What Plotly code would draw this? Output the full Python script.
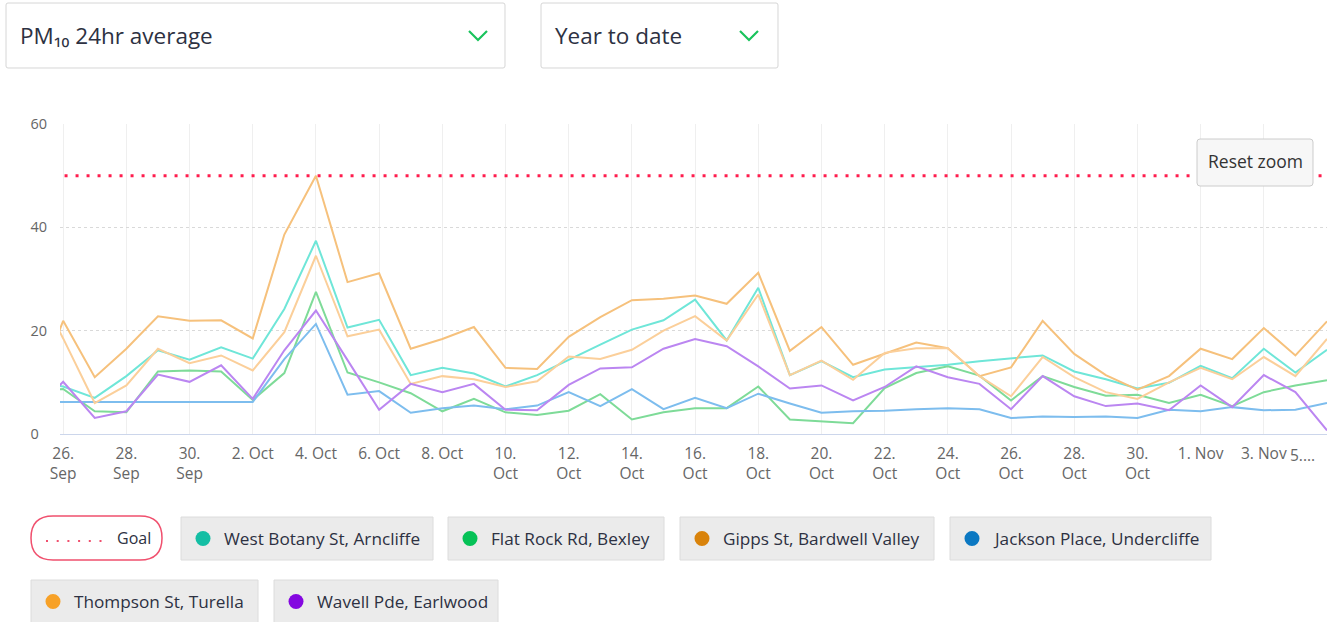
import plotly.graph_objects as go
import pandas as pd

# ---------------- data ----------------
dates = pd.date_range("2023-09-25", "2023-11-05", freq="D")

west_botany = [10.0, 9.2, 7.0, 11.2, 16.2, 14.4, 16.8, 14.6, 24.2, 37.4, 20.6, 22.1, 11.4, 12.8,
               11.7, 9.2, 11.4, 14.4, 17.3, 20.2, 22.0, 26.0, 18.1, 28.3, 11.4, 14.1, 11.0, 12.5,
               12.9, 13.4, 14.1, 14.6, 15.2, 12.1, 10.6, 8.8, 9.9, 13.2, 10.8, 16.5, 11.9, 16.3]
flat_rock = [8.5, 8.7, 4.4, 4.2, 12.1, 12.3, 12.1, 6.6, 11.8, 27.5, 11.9, 10.0, 7.9, 4.4,
             6.8, 4.2, 3.7, 4.5, 7.7, 2.8, 4.2, 5.0, 5.0, 9.2, 2.8, 2.5, 2.1, 8.9,
             11.8, 13.1, 11.3, 6.5, 11.2, 9.1, 7.4, 7.6, 6.0, 7.6, 5.4, 8.1, 9.4, 10.4]
gipps = [6.0, 21.9, 11.0, 16.5, 22.8, 21.9, 22.0, 18.5, 38.6, 50.0, 29.4, 31.1, 16.5, 18.4,
         20.7, 12.8, 12.6, 18.8, 22.6, 25.9, 26.2, 26.8, 25.2, 31.2, 16.1, 20.7, 13.4, 15.5,
         17.7, 16.6, 11.2, 12.9, 21.9, 15.5, 11.4, 8.6, 11.2, 16.5, 14.5, 20.5, 15.2, 21.8]
jackson = [6.2, 6.2, 6.2, 6.2, 6.2, 6.2, 6.2, 6.2, 14.5, 21.3, 7.6, 8.3, 4.1, 5.0,
           5.5, 4.8, 5.5, 8.1, 5.4, 8.7, 4.8, 7.0, 5.0, 7.8, 5.9, 4.1, 4.4, 4.5,
           4.8, 5.0, 4.8, 3.1, 3.4, 3.3, 3.4, 3.1, 4.7, 4.4, 5.2, 4.6, 4.7, 6.0]
thompson = [30.0, 18.5, 6.0, 9.4, 16.5, 13.7, 15.2, 12.3, 19.7, 34.5, 18.9, 20.2, 9.7, 11.2,
            10.6, 9.1, 10.2, 15.0, 14.5, 16.3, 20.0, 22.8, 18.1, 27.0, 11.4, 14.2, 10.5, 15.7,
            16.6, 16.6, 11.2, 7.3, 14.9, 11.0, 8.1, 6.8, 10.0, 12.8, 10.6, 14.9, 11.2, 18.4]
wavell = [4.0, 10.1, 3.1, 4.4, 11.5, 10.1, 13.3, 6.8, 16.2, 23.9, 14.3, 4.7, 9.7, 8.1,
          9.7, 4.7, 4.6, 9.5, 12.7, 12.9, 16.5, 18.4, 17.0, 13.1, 8.8, 9.4, 6.5, 9.1,
          13.1, 11.0, 9.7, 4.8, 11.2, 7.3, 5.4, 5.9, 4.6, 9.4, 5.2, 11.4, 8.1, 0.7]
goal_value = 50

series_names = ["West Botany St, Arncliffe", "Flat Rock Rd, Bexley", "Gipps St, Bardwell Valley",
                "Jackson Place, Undercliffe", "Thompson St, Turella", "Wavell Pde, Earlwood"]
series_values = [west_botany, flat_rock, gipps, jackson, thompson, wavell]
line_colors = ["#6fe6d8", "#7edb98", "#f6c17c", "#7dbdee", "#fbcf9a", "#bb86f1"]
legend_colors = ["#14bea4", "#06c257", "#d9830b", "#0b78c2", "#f7a127", "#8407e0"]

tick_vals = pd.date_range("2023-09-26", "2023-11-05", freq="2D")
tick_labels = ["26.<br>Sep", "28.<br>Sep", "30.<br>Sep", "2. Oct", "4. Oct", "6. Oct", "8. Oct",
               "10.<br>Oct", "12.<br>Oct", "14.<br>Oct", "16.<br>Oct", "18.<br>Oct", "20.<br>Oct",
               "22.<br>Oct", "24.<br>Oct", "26.<br>Oct", "28.<br>Oct", "30.<br>Oct", "1. Nov",
               "3. Nov", "5...."]
y_ticks = [0, 20, 40, 60]
y_labels = ["0\u2007", "20", "40", "60"]

# ---------------- geometry helpers ----------------
W, H = 1336, 622
L, R, T, B = 60, 1327, 124, 434


def px(x):
    return (x - L) / (R - L)


def py(y):
    return (B - y) / (B - T)


def rrect(x0, y0, x1, y1, r):
    pts = [("M", x0 + r, y0), ("L", x1 - r, y0), ("Q", x1, y0, x1, y0 + r), ("L", x1, y1 - r),
           ("Q", x1, y1, x1 - r, y1), ("L", x0 + r, y1), ("Q", x0, y1, x0, y1 - r),
           ("L", x0, y0 + r), ("Q", x0, y0, x0 + r, y0)]
    s = ""
    for p in pts:
        coords = p[1:]
        parts = [f"{px(coords[i]):.5f},{py(coords[i + 1]):.5f}" for i in range(0, len(coords), 2)]
        s += p[0] + " " + " ".join(parts) + " "
    return s + "Z"


FONT = "Open Sans"
TXT = "#2d3142"


def label(x, y, text, size, xanchor="left", color=TXT, family=FONT):
    return dict(xref="paper", yref="paper", x=px(x), y=py(y), xanchor=xanchor, yanchor="middle",
                text=text, showarrow=False, font=dict(family=family, size=size, color=color))


fig = go.Figure()

# goal line
fig.add_trace(go.Scatter(
    x=[pd.Timestamp("2023-09-25"), dates[-1]], y=[goal_value, goal_value], mode="lines",
    line=dict(color="#ff1d4e", width=3, dash="3px,8px"), hoverinfo="skip", showlegend=False))

for name, vals, col in zip(series_names, series_values, line_colors):
    fig.add_trace(go.Scatter(x=dates, y=vals, mode="lines", name=name,
                             line=dict(color=col, width=2), showlegend=False))

shapes = []
annotations = []

# dropdowns
for (x0, x1, txt, cx) in [(6, 505, "PM\u2081\u2080 24hr average", 478), (541, 778, "Year to date", 749)]:
    shapes.append(dict(type="path", xref="paper", yref="paper", path=rrect(x0, 3, x1, 68, 2),
                       line=dict(color="#d6d6d6", width=1), fillcolor="white"))
    annotations.append(label(x0 + 12, 36, txt, 22.5))
    shapes.append(dict(type="path", xref="paper", yref="paper",
                       path=f"M {px(cx - 9):.5f},{py(31):.5f} L {px(cx):.5f},{py(40):.5f} L {px(cx + 9):.5f},{py(31):.5f}",
                       line=dict(color="#19c35c", width=2.2)))

# reset zoom button
shapes.append(dict(type="path", xref="paper", yref="paper", path=rrect(1197, 139, 1313, 186, 3),
                   line=dict(color="#cccccc", width=1), fillcolor="#f7f7f7", layer="above"))
annotations.append(label(1255, 161, "Reset zoom", 17.5, xanchor="center", color="#333333"))

# last x tick label (truncated)
annotations.append(label(1317, 455, tick_labels[-1], 15.5, xanchor="right", color="#666666"))

# custom legend
shapes.append(dict(type="path", xref="paper", yref="paper", path=rrect(31, 516, 162, 560, 22),
                   line=dict(color="#f0506e", width=1.5), fillcolor="white"))
shapes.append(dict(type="line", xref="paper", yref="paper", x0=px(46), x1=px(102), y0=py(541), y1=py(541),
                   line=dict(color="#f0506e", width=2, dash="2px,8.7px")))
annotations.append(label(153, 538, "Goal", 16, xanchor="right"))

legend_boxes = [(181, 433, 517), (448, 664, 517), (680, 934, 517), (950, 1211, 517),
                (31, 258, 580), (274, 498, 580)]
for name, col, (x0, x1, y0) in zip(series_names, legend_colors, legend_boxes):
    shapes.append(dict(type="rect", xref="paper", yref="paper", x0=px(x0), x1=px(x1),
                       y0=py(y0), y1=py(y0 + 43), line=dict(color="#dcdcdc", width=1),
                       fillcolor="#ebebeb"))
    cy = y0 + 21.5
    shapes.append(dict(type="circle", xref="paper", yref="paper", x0=px(x0 + 14.5), x1=px(x0 + 29.5),
                       y0=py(cy - 7.5), y1=py(cy + 7.5), line=dict(width=0), fillcolor=col))
    annotations.append(label(x0 + 41, cy, name, 17.2))

fig.update_layout(
    width=W, height=H, margin=dict(l=L, r=W - R, t=T, b=H - B),
    paper_bgcolor="white", plot_bgcolor="white",
    shapes=shapes, annotations=annotations, showlegend=False,
    xaxis=dict(type="date", range=[pd.Timestamp("2023-09-25 21:36"), pd.Timestamp("2023-11-05")],
               tickvals=tick_vals, ticktext=tick_labels[:-1] + [""], showgrid=True,
               gridcolor="#efefef", gridwidth=1, showline=True, linecolor="#ccd6eb", linewidth=1,
               zeroline=False, ticks="", tickfont=dict(family=FONT, size=15.5, color="#666666"),
               ticklabelstandoff=5, fixedrange=True),
    yaxis=dict(range=[0, 60], tickvals=y_ticks, ticktext=y_labels, showgrid=True,
               gridcolor="#d9d9d9", griddash="dot", gridwidth=1, zeroline=False, ticks="",
               tickfont=dict(family=FONT, size=14.5, color="#666666"), ticklabelstandoff=12,
               fixedrange=True),
    hovermode=False,
)

fig.write_html("out.html", config={"displayModeBar": False},
               post_script="document.body.style.margin='0';document.body.style.overflow='hidden';")
